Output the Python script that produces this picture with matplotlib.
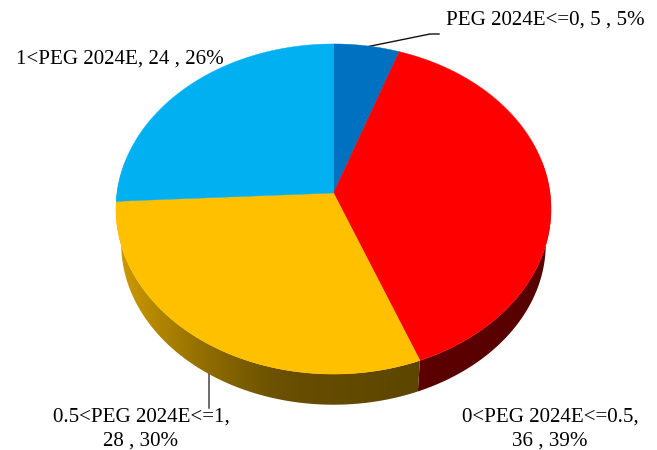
import numpy as np
import matplotlib
matplotlib.use("Agg")
import matplotlib.pyplot as plt
from matplotlib.patches import Polygon
from matplotlib.colors import to_rgb

categories = ["PEG 2024E<=0", "0<PEG 2024E<=0.5", "0.5<PEG 2024E<=1", "1<PEG 2024E"]
values = [5, 36, 28, 24]
percents = ["5%", "39%", "30%", "26%"]
colors = ["#0070C0", "#FF0000", "#FFC000", "#00B0F0"]

plt.rcParams["font.family"] = ["Liberation Serif", "DejaVu Serif"]
fig = plt.figure(figsize=(6.57, 4.5), dpi=100)
ax = fig.add_axes([0, 0, 1, 1])
ax.set_xlim(0, 657)
ax.set_ylim(450, 0)
ax.axis("off")

CX, CY, R, B, K = 333.5, 193.0, 216.5, 163.5, 0.097
SCALE, BOTTOM_Y = 0.976, 228.0


def rim(theta, scale=1.0, cy=CY):
    """Perspective projection of the disc rim; theta clockwise from 12 o'clock."""
    u, v = np.sin(theta), np.cos(theta)
    w = 1 + K * v
    return CX + scale * R * u / w, cy - scale * B * v / w


def side_shade(x):
    return np.interp(x, [120, 160, 200, 240, 270, 300, 430, 551],
                     [0.80, 0.69, 0.58, 0.49, 0.43, 0.40, 0.36, 0.34])


edges = np.deg2rad(np.concatenate([[0], np.cumsum(values)]) / sum(values) * 360)

# leader lines sit behind the pie
ax.plot([366, 430, 439], [47, 34, 34], color="#111111", lw=1.0, zorder=1)
ax.plot([209, 209], [370, 408], color="#444444", lw=1.1, zorder=1)

# side wall: a horizontal gradient clipped to each segment's wall
gx = np.linspace(100, 560, 461)
for i, col in enumerate(colors):
    if np.cos(edges[i]) > 0.2 and np.cos(edges[i + 1]) > 0.2:
        continue
    th = np.linspace(edges[i], edges[i + 1], 200)
    th = th[np.cos(th) < 0.2]
    xt, yt = rim(th)
    xb, yb = rim(th, SCALE, BOTTOM_Y)
    pts = np.column_stack([np.r_[xt, xb[::-1]], np.r_[yt, yb[::-1]]])
    clip = Polygon(pts, closed=True, transform=ax.transData, facecolor="none", edgecolor="none")
    ax.add_patch(clip)
    grad = np.array(to_rgb(col))[None, None, :] * side_shade(gx)[None, :, None]
    im = ax.imshow(grad, extent=(100, 560, 450, 0), aspect="auto", zorder=2,
                   interpolation="bilinear")
    im.set_clip_path(clip)
ax.set_xlim(0, 657)
ax.set_ylim(450, 0)

# top face
for i, col in enumerate(colors):
    th = np.linspace(edges[i], edges[i + 1], 240)
    xt, yt = rim(th)
    pts = np.column_stack([np.r_[CX, xt], np.r_[CY, yt]])
    ax.add_patch(Polygon(pts, closed=True, facecolor=col, edgecolor=col, lw=0.3, zorder=3))

# labels
FS = 15.1
def lab(i):
    return f"{categories[i]}, {values[i]} , {percents[i]}"

ax.text(446, 20, lab(0), fontsize=FS, ha="left", va="center", color="black")
ax.text(16, 59, lab(3), fontsize=FS, ha="left", va="center", color="black")
ax.text(141, 417, f"{categories[2]},", fontsize=FS, ha="center", va="center", color="black")
ax.text(141, 441.5, f"{values[2]} , {percents[2]}", fontsize=FS, ha="center", va="center", color="black")
ax.text(550, 417, f"{categories[1]},", fontsize=FS, ha="center", va="center", color="black")
ax.text(550, 441.5, f"{values[1]} , {percents[1]}", fontsize=FS, ha="center", va="center", color="black")

fig.savefig("out.png", dpi=100)
